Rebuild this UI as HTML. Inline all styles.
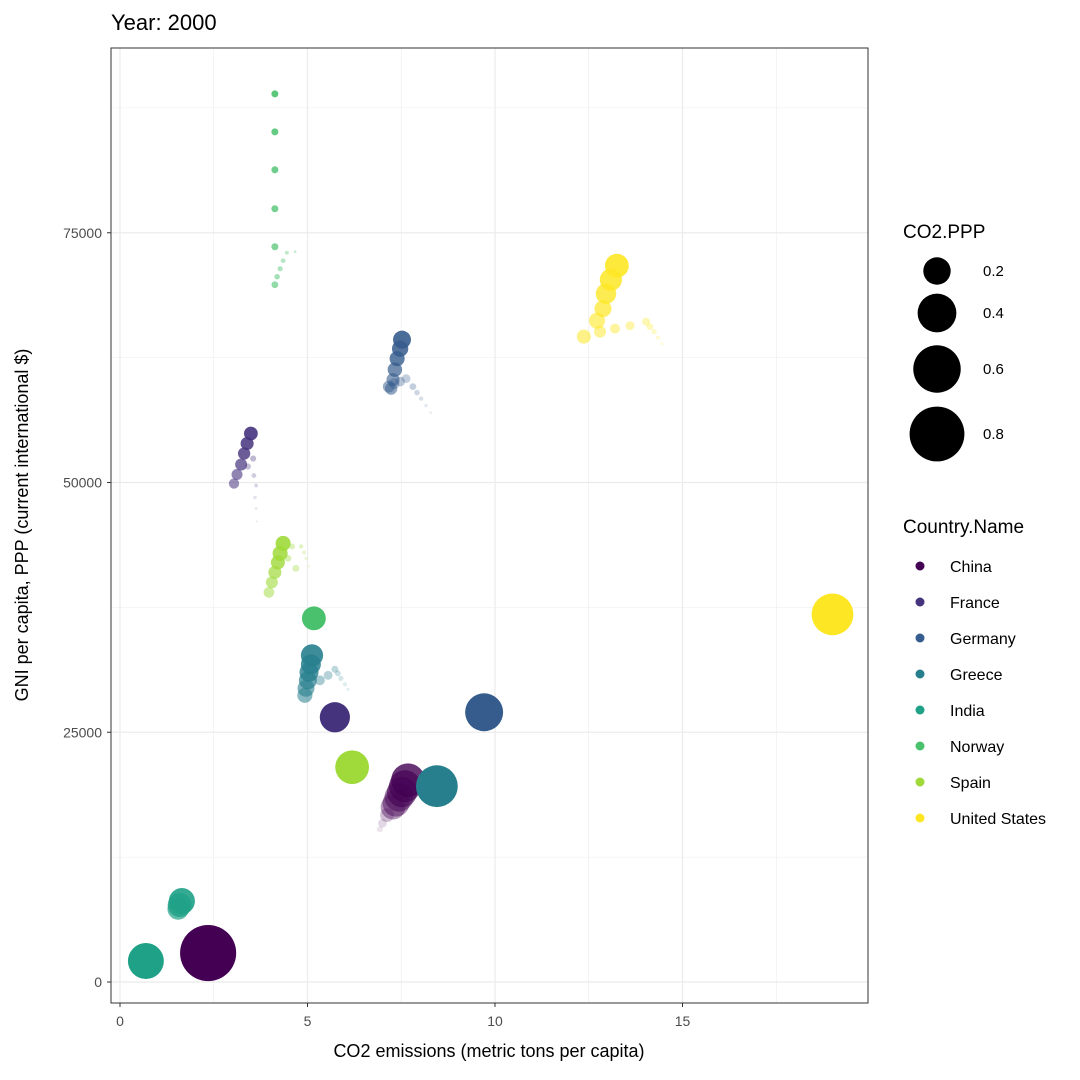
<!DOCTYPE html>
<html><head><meta charset="utf-8"><style>
html,body{margin:0;padding:0;background:#fff;}
svg{display:block;font-family:"Liberation Sans",Arial,sans-serif;}
</style></head><body>
<svg id="chart" width="1080" height="1080" viewBox="0 0 1080 1080" xmlns="http://www.w3.org/2000/svg">
<rect x="0" y="0" width="1080" height="1080" fill="#fff"/>
<text x="111" y="30" font-size="22" fill="#000">Year: 2000</text>
<g id="grid"></g>
<g id="marks"></g>
<rect x="111" y="48" width="757" height="955" fill="none" stroke="#333" stroke-width="1"/>
<g id="axes"></g>
<text x="489" y="1057" font-size="18" text-anchor="middle" fill="#000">CO2 emissions (metric tons per capita)</text>
<text transform="translate(28,525) rotate(-90)" font-size="18" text-anchor="middle" fill="#000">GNI per capita, PPP (current international $)</text>
<g id="legend"></g>
</svg>
<script>
const countries = ["China","France","Germany","Greece","India","Norway","Spain","United States"];
const colors = ["#440154","#46337E","#365C8D","#277F8E","#1FA187","#4AC16D","#9FDA3A","#FDE725"];
const xTicks = [0,5,10,15];
const yTicks = [0,25000,50000,75000];
const yTickLabels = ["0","25000","50000","75000"];
const sizeBreaks = [0.2,0.4,0.6,0.8];
// current-frame points
const curCountry = [0,4,5,1,6,2,3,7];
const curX = [2.35,0.69,5.17,5.73,6.19,9.71,8.45,19.0];
const curY = [2900,2100,36400,26500,21500,27000,19600,36800];
const curSize = [0.83,0.34,0.15,0.24,0.30,0.38,0.46,0.46];
// shadow trail points
const trCountry = [
5,5,5,5,5,5,5,5,5,5,5,
1,1,1,1,1,1,1,1,1,1,1,1,1,
2,2,2,2,2,2,2,2,2,2,2,2,2,2,2,
7,7,7,7,7,7,7,7,7,7,7,7,7,7,
6,6,6,6,6,6,6,6,6,6,6,6,6,
3,3,3,3,3,3,3,3,3,3,3,3,3,
0,0,0,0,0,0,0,0,0,
4,4,4];
const trX = [
4.13,4.13,4.13,4.13,4.13,4.13,4.19,4.27,4.35,4.45,4.67,
3.49,3.39,3.31,3.23,3.12,3.04,3.55,3.41,3.57,3.63,3.60,3.63,3.65,
7.52,7.47,7.39,7.33,7.28,7.23,7.17,7.31,7.47,7.63,7.81,7.92,8.03,8.16,8.29,
13.25,13.09,12.96,12.88,12.72,12.37,12.80,13.20,13.60,14.03,14.13,14.24,14.35,14.45,
4.35,4.27,4.21,4.13,4.05,3.97,4.48,4.69,4.59,4.83,4.91,4.96,5.04,
5.12,5.09,5.04,5.01,4.96,4.93,5.33,5.55,5.73,5.81,5.89,6.00,6.08,
7.68,7.60,7.52,7.44,7.36,7.28,7.12,7.00,6.93,
1.65,1.59,1.55];
const trY = [
88900,85100,81300,77400,73600,69800,70600,71400,72200,73000,73100,
54900,53900,52900,51800,50800,49900,52400,51600,50700,49700,48500,47400,46100,
64300,63400,62400,61300,60300,59400,59600,59900,60100,60400,59600,59000,58400,57700,57000,
71700,70300,68900,67400,66200,64600,65100,65400,65700,66100,65600,65100,64500,63900,
43900,42900,42000,41000,40000,39000,42400,41400,43600,43600,43000,42400,41600,
32700,31800,31000,30200,29400,28700,30200,30700,31300,30900,30400,29800,29300,
20200,19600,19000,18500,17900,17500,16700,15900,15300,
8100,7700,7300];
const trSize = [
0.013,0.013,0.013,0.013,0.013,0.012,0.008,0.007,0.006,0.004,0.002,
0.05,0.045,0.04,0.038,0.032,0.028,0.01,0.01,0.006,0.004,0.003,0.002,0.001,
0.085,0.07,0.06,0.055,0.045,0.04,0.038,0.03,0.025,0.02,0.012,0.008,0.005,0.003,0.002,
0.15,0.13,0.11,0.076,0.068,0.052,0.038,0.026,0.021,0.017,0.012,0.008,0.005,0.003,
0.06,0.06,0.052,0.045,0.038,0.03,0.012,0.013,0.009,0.005,0.004,0.003,0.002,
0.13,0.105,0.095,0.085,0.076,0.06,0.026,0.021,0.013,0.009,0.007,0.005,0.003,
0.30,0.27,0.24,0.22,0.19,0.16,0.05,0.02,0.01,
0.18,0.15,0.12];
const trAlpha = [
0.9,0.85,0.8,0.75,0.7,0.6,0.5,0.45,0.4,0.35,0.3,
0.9,0.85,0.8,0.7,0.6,0.55,0.35,0.3,0.25,0.2,0.15,0.12,0.1,
0.9,0.85,0.8,0.7,0.6,0.55,0.5,0.4,0.35,0.3,0.3,0.25,0.2,0.15,0.1,
0.9,0.85,0.8,0.7,0.6,0.55,0.5,0.45,0.4,0.35,0.3,0.25,0.2,0.15,
0.9,0.85,0.8,0.7,0.6,0.5,0.4,0.35,0.35,0.3,0.25,0.2,0.15,
0.9,0.85,0.8,0.7,0.6,0.55,0.4,0.35,0.3,0.25,0.2,0.15,0.12,
0.8,0.7,0.6,0.5,0.45,0.4,0.25,0.15,0.1,
0.9,0.8,0.7];

const NS="http://www.w3.org/2000/svg";
const xS = v => 120 + v*37.5;
const yS = v => 982 - v*0.00999;
const rS = v => 30.8*Math.sqrt(v);
function mk(tag, attrs, parent){const e=document.createElementNS(NS,tag);for(const k in attrs)e.setAttribute(k,attrs[k]);parent.appendChild(e);return e;}
const grid=document.getElementById('grid'), marks=document.getElementById('marks'), axes=document.getElementById('axes'), legend=document.getElementById('legend');
mk('rect',{x:111,y:48,width:757,height:955,fill:'#fff'},grid);
for(let v=-2.5; v<=20; v+=5){const x=xS(v); if(x>111&&x<868){const l=mk('line',{x1:x,x2:x,y1:48,y2:1003,stroke:'#EBEBEB','stroke-width':0.6},grid);

}}
for(let v=-12500; v<=100000; v+=25000){const y=yS(v); if(y>48&&y<1003){const l=mk('line',{x1:111,x2:868,y1:y,y2:y,stroke:'#EBEBEB','stroke-width':0.6},grid);

}}
xTicks.forEach(v=>{const x=xS(v);
const l=mk('line',{x1:x,x2:x,y1:48,y2:1003,stroke:'#EBEBEB','stroke-width':1.2},grid);


const t=mk('line',{x1:x,x2:x,y1:1003,y2:1007,stroke:'#333','stroke-width':1},axes);


const tx=mk('text',{x:x,y:1026,'font-size':14,'text-anchor':'middle',fill:'#4D4D4D'},axes);tx.textContent=v;

});
yTicks.forEach((v,i)=>{const y=yS(v);
const l=mk('line',{x1:111,x2:868,y1:y,y2:y,stroke:'#EBEBEB','stroke-width':1.2},grid);


const t=mk('line',{x1:107,x2:111,y1:y,y2:y,stroke:'#333','stroke-width':1},axes);


const tx=mk('text',{x:102,y:y+5,'font-size':14,'text-anchor':'end',fill:'#4D4D4D'},axes);tx.textContent=yTickLabels[i];

});
for(let i=trX.length-1;i>=0;i--){
const c=mk('circle',{cx:xS(trX[i]),cy:yS(trY[i]),r:rS(trSize[i]),fill:colors[trCountry[i]],'fill-opacity':trAlpha[i]},marks);

}
curX.forEach((v,i)=>{
const c=mk('circle',{cx:xS(v),cy:yS(curY[i]),r:rS(curSize[i]),fill:colors[curCountry[i]]},marks);

});
const st=mk('text',{x:903,y:238,'font-size':19,fill:'#000'},legend);st.textContent='CO2.PPP';


const sy=[271,313,369,434];
sizeBreaks.forEach((v,i)=>{
const c=mk('circle',{cx:937,cy:sy[i],r:rS(v)*0.995,fill:'#000'},legend);


const t=mk('text',{x:983,y:sy[i]+5,'font-size':15,fill:'#000'},legend);t.textContent=v;

});
const ct=mk('text',{x:903,y:533,'font-size':19,fill:'#000'},legend);ct.textContent='Country.Name';


countries.forEach((n,i)=>{const y=566+36*i;
const c=mk('circle',{cx:920,cy:y,r:4.5,fill:colors[i]},legend);


const t=mk('text',{x:950,y:y+6,'font-size':16,fill:'#000'},legend);t.textContent=n;

});
</script>
</body></html>
